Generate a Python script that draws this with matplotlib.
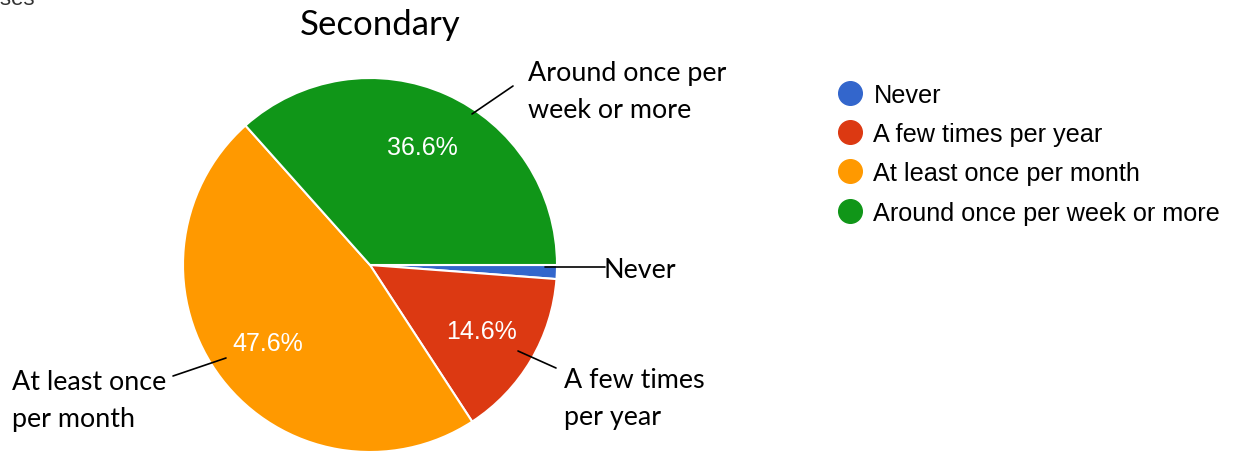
import matplotlib.pyplot as plt
from matplotlib.lines import Line2D

categories = ['Never', 'A few times per year', 'At least once per month', 'Around once per week or more']
shares = [1.2, 14.6, 47.6, 36.6]
colors = ['#3366cc', '#dc3912', '#ff9900', '#109618']
callouts = ['Never', 'A few times\nper year', 'At least once\nper month', 'Around once per\nweek or more']

W, H = 1236, 452
fig = plt.figure(figsize=(W / 100, H / 100), dpi=100)

# pie axes placed in pixels: centre (370, 266), radius R
cx, cy, R = 370, 266, 187
ax = fig.add_axes([(cx - R) / W, 1 - (cy + R) / H, 2 * R / W, 2 * R / H])


def pct(p):
    return f'{p:.1f}%' if p > 5 else ''


wedges, _, autotexts = ax.pie(
    shares, colors=colors, startangle=0, counterclock=False,
    autopct=pct, pctdistance=0.69,
    wedgeprops=dict(edgecolor='white', linewidth=1.5),
    textprops=dict(color='white', fontsize=18, family='Liberation Sans'),
)
ax.set_xlim(-1, 1)
ax.set_ylim(-1, 1)
ax.set_aspect('equal')


def px(x, y):
    # figure pixel (from top-left) -> pie data units
    return (x - cx) / R, (cy - y) / R


# callout layout in pixels: text anchor, leader start, leader end
text_pos = [(604, 270), (564, 399), (12, 401), (528, 92)]
line_start = [(545, 268), (518, 352), (226, 359), (472, 115)]
line_end = [(605, 268), (556, 369), (173, 377), (513, 87)]

for lab, tp, ls, le in zip(callouts, text_pos, line_start, line_end):
    ax.annotate('', xy=px(*ls), xytext=px(*le), annotation_clip=False,
                arrowprops=dict(arrowstyle='-', color='black', lw=1.2,
                                shrinkA=0, shrinkB=0))
    ax.text(*px(*tp), lab, ha='left', va='center', fontsize=19.4,
            family='Lato', linespacing=1.6, clip_on=False)

fig.text(380 / W, 1 - 25 / H, 'Secondary', ha='center', va='center',
         fontsize=25, family='Lato')
fig.text(35 / W, 1 - 5 / H, 'responses', ha='right', va='baseline',
         fontsize=16, family='Liberation Sans', color='#333333')

handles = [Line2D([], [], marker='o', linestyle='', markersize=17,
                  markerfacecolor=c, markeredgecolor=c) for c in colors]
fig.legend(handles, categories, loc='upper left',
           bbox_to_anchor=(838 / W, 1 - 84 / H), frameon=False,
           prop=dict(family='Liberation Sans', size=18.2),
           handlelength=0.95, handletextpad=0.45, labelspacing=0.6,
           borderpad=0, borderaxespad=0)

fig.savefig('out.png', dpi=100)
